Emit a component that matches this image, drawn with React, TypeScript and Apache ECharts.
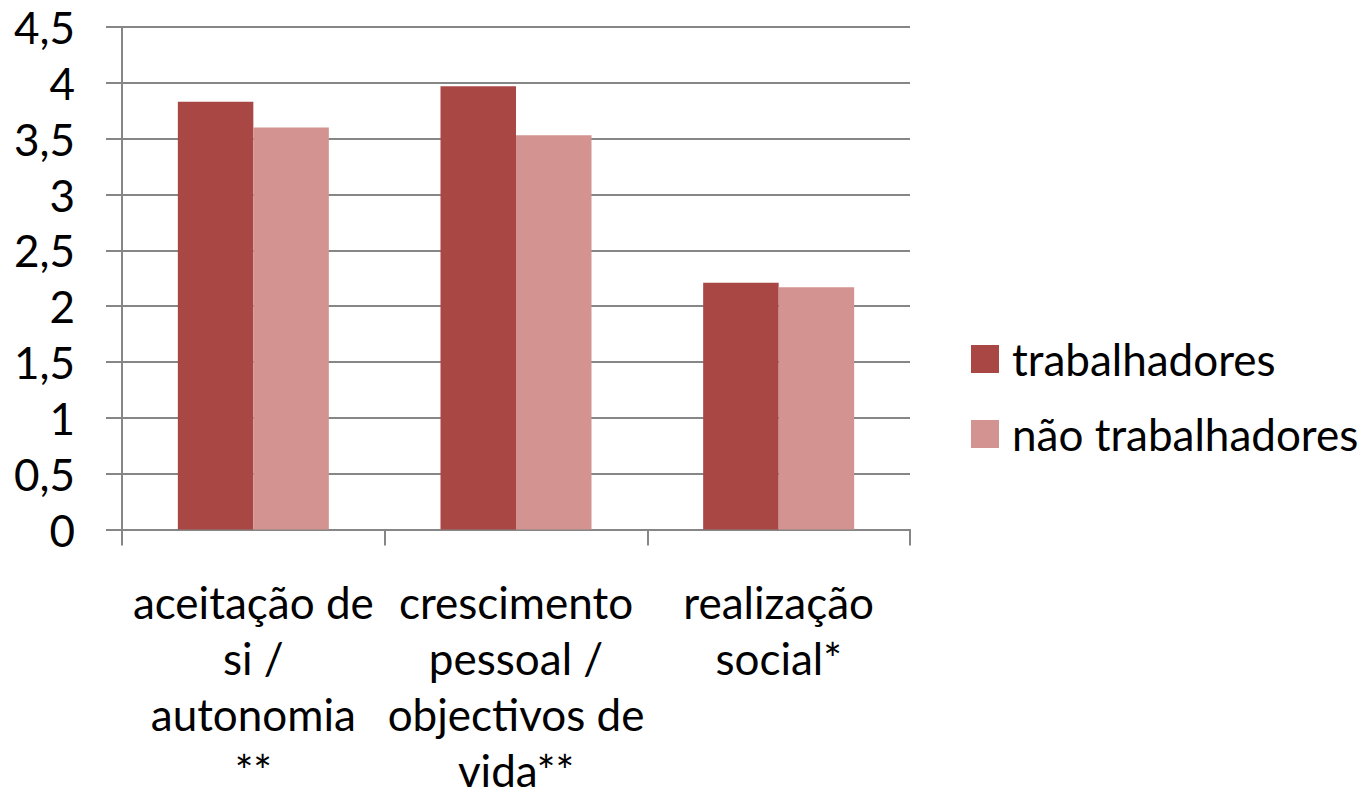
import React, { useEffect, useRef } from "react";
import * as echarts from "echarts";

const categories = [
  "aceitação de\nsi /\nautonomia\n**",
  "crescimento\npessoal /\nobjectivos de\nvida**",
  "realização\nsocial*",
];
const seriesNames = ["trabalhadores", "não trabalhadores"];
const trabalhadores = [3.83, 3.97, 2.21];
const naoTrabalhadores = [3.6, 3.53, 2.17];
const yTicks = [0, 0.5, 1, 1.5, 2, 2.5, 3, 3.5, 4, 4.5];

const FONT = "Lato";
const GRAY = "#868686";

export default function App() {
  const ref = useRef<HTMLDivElement>(null);
  useEffect(() => {
    document.body.style.margin = "0";
    const chart = echarts.init(ref.current!, null, { renderer: "svg" });
    chart.setOption({
      animation: false,
      backgroundColor: "#ffffff",
      textStyle: { fontFamily: FONT },
      grid: {
        left: 122,
        right: 459,
        top: 27,
        bottom: 268.5,
        containLabel: false,
        outerBoundsMode: "none",
      },
      legend: {
        orient: "vertical",
        left: 971,
        top: 337,
        padding: 0,
        itemWidth: 28,
        itemHeight: 28,
        itemGap: 31,
        icon: "rect",
        textStyle: {
          fontSize: 44,
          lineHeight: 28,
          fontFamily: FONT,
          color: "#000",
          padding: [0, 0, 0, 8],
        },
        data: seriesNames,
      },
      xAxis: {
        type: "category",
        data: categories,
        axisLine: { show: true, lineStyle: { color: GRAY, width: 2 } },
        axisTick: { show: true, length: 16, lineStyle: { color: GRAY, width: 2 } },
        axisLabel: {
          interval: 0,
          margin: 44,
          fontSize: 44,
          lineHeight: 56,
          color: "#000",
          fontFamily: FONT,
        },
      },
      yAxis: {
        type: "value",
        min: 0,
        max: 4.5,
        interval: 0.5,
        axisLine: { show: true, lineStyle: { color: GRAY, width: 2 } },
        axisTick: { show: true, length: 16, inside: false, lineStyle: { color: GRAY, width: 2 } },
        splitLine: { show: true, lineStyle: { color: GRAY, width: 2 } },
        axisLabel: {
          margin: 47,
          fontSize: 44,
          color: "#000",
          fontFamily: FONT,
          formatter: (v: number) => (yTicks.includes(v) ? String(v).replace(".", ",") : ""),
        },
      },
      series: [
        {
          name: seriesNames[0],
          type: "bar",
          data: trabalhadores,
          barWidth: 75.5,
          barGap: "0%",
          itemStyle: { color: "#A94745" },
        },
        {
          name: seriesNames[1],
          type: "bar",
          data: naoTrabalhadores,
          barWidth: 75.5,
          barGap: "0%",
          itemStyle: { color: "#D39391" },
        },
      ],
    });
    return () => chart.dispose();
  }, []);
  return <div ref={ref} style={{ width: 1369, height: 798 }} />;
}
